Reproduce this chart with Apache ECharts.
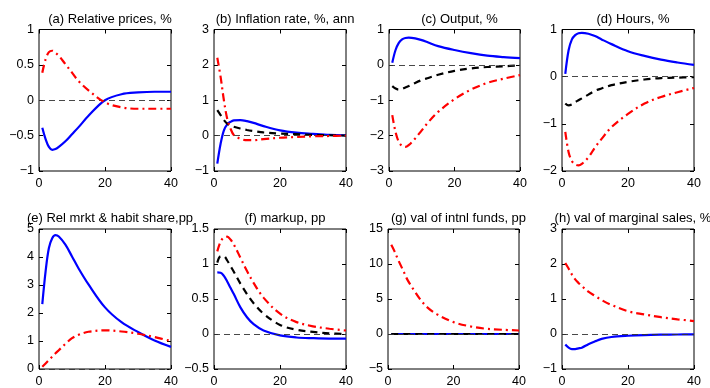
<!DOCTYPE html>
<html><head><meta charset="utf-8">
<script src="https://cdn.jsdelivr.net/npm/echarts@6/dist/echarts.min.js"></script>
<style>html,body{margin:0;padding:0;background:#fff}#c{width:710px;height:388px}</style>
</head><body><div id="c"></div>
<script>
const xs = [1,2,3,4,5,6,8,10,12,15,20,25,30,35,40];
const titles = ['(a) Relative prices, %','(b) Inflation rate, %, ann','(c) Output, %','(d) Hours, %',
  '(e) Rel mrkt & habit share,pp','(f) markup, pp','(g) val of intnl funds, pp','(h) val of marginal sales, %'];
const yMin = [-1,-1,-3,-2,0,-0.5,-5,-1];
const yMax = [1,3,1,1,5,1.5,15,3];
const yStep = [0.5,1,1,1,1,0.5,5,1];

const blueA = [-0.39,-0.55,-0.66,-0.70,-0.69,-0.66,-0.58,-0.48,-0.38,-0.22,0.0,0.085,0.11,0.12,0.12];
const redA  = [0.39,0.58,0.68,0.70,0.67,0.63,0.51,0.39,0.27,0.14,-0.03,-0.10,-0.12,-0.12,-0.12];

const blueB  = [-0.79,-0.23,0.15,0.32,0.39,0.43,0.44,0.41,0.36,0.27,0.15,0.085,0.05,0.02,0.01];
const blackB = [0.72,0.58,0.44,0.34,0.29,0.25,0.2,0.16,0.13,0.09,0.06,0.04,0.02,0.01,0];
const redB   = [2.2,1.66,1.0,0.48,0.2,0.02,-0.09,-0.13,-0.13,-0.10,-0.06,-0.04,-0.02,-0.01,0];

const blueC  = [0.06,0.42,0.62,0.72,0.76,0.77,0.75,0.70,0.63,0.53,0.42,0.33,0.26,0.22,0.19];
const blackC = [-0.60,-0.67,-0.70,-0.68,-0.64,-0.60,-0.51,-0.43,-0.37,-0.28,-0.17,-0.10,-0.06,-0.04,-0.01];
const redC   = [-1.42,-1.9,-2.18,-2.29,-2.32,-2.27,-2.08,-1.85,-1.62,-1.33,-0.97,-0.70,-0.51,-0.39,-0.29];

const blueD  = [0.06,0.56,0.79,0.88,0.92,0.93,0.91,0.86,0.79,0.69,0.54,0.44,0.36,0.30,0.25];
const blackD = [-0.57,-0.61,-0.59,-0.54,-0.50,-0.46,-0.38,-0.30,-0.25,-0.18,-0.11,-0.06,-0.03,-0.02,-0.01];
const redD   = [-1.17,-1.6,-1.79,-1.86,-1.88,-1.85,-1.71,-1.50,-1.32,-1.07,-0.79,-0.57,-0.43,-0.33,-0.24];

const blueE = [2.32,3.49,4.32,4.67,4.78,4.73,4.44,4.02,3.59,3.02,2.2,1.67,1.32,1.02,0.79];
const redE  = [0.08,0.2,0.32,0.44,0.56,0.67,0.9,1.1,1.22,1.33,1.38,1.34,1.26,1.14,1.0];

const blueF  = [0.88,0.875,0.83,0.75,0.66,0.57,0.38,0.24,0.14,0.05,-0.02,-0.05,-0.06,-0.065,-0.065];
const blackF = [1.02,1.11,1.11,1.05,0.97,0.89,0.72,0.57,0.44,0.29,0.13,0.06,0.03,0.01,0.0];
const redF   = [1.18,1.32,1.38,1.39,1.35,1.28,1.09,0.90,0.73,0.52,0.29,0.17,0.11,0.075,0.05];

const blueG  = [0,0,0,0,0,0,0,0,0,0,0,0,0,0,0];
const blackG = [0,0,0,0,0,0,0,0,0,0,0,0,0,0,0];
const redG   = [12.75,11.8,10.7,9.7,8.7,7.7,6.2,4.85,3.8,2.8,1.7,1.1,0.75,0.6,0.5];

const blueH = [-0.30,-0.39,-0.43,-0.43,-0.41,-0.39,-0.29,-0.21,-0.14,-0.085,-0.05,-0.03,-0.02,-0.015,-0.01];
const redH  = [2.03,1.87,1.70,1.56,1.46,1.37,1.21,1.09,0.97,0.83,0.65,0.56,0.48,0.42,0.37];

const panelBlue  = [blueA,blueB,blueC,blueD,blueE,blueF,blueG,blueH];
const panelBlack = [null,blackB,blackC,blackD,null,blackF,blackG,null];
const panelRed   = [redA,redB,redC,redD,redE,redF,redG,redH];

const lefts = [39,214,389,562,39,214,388,562];
const widths = [132,132,131,132,132,132,131,132];
const tops = [29.5,29.5,29.5,29.5,229,229,229,229];
const height = 141.5;

const font = 'Liberation Sans, Arial, Helvetica, sans-serif';
const fmt = v => String(v).replace('-', '\u2212');
const pairs = arr => xs.map((x,i)=>[x,arr[i]]);

const grid=[], xAxis=[], yAxis=[], series=[], title=[];
for (let i=0;i<8;i++){
  grid.push({left:lefts[i], top:tops[i], width:widths[i], height:height, show:true, borderColor:'#000', borderWidth:1, backgroundColor:'transparent', containLabel:false});
  title.push({text:titles[i], left:lefts[i]+widths[i]/2, top:tops[i]-22, textAlign:'center',
    textStyle:{fontFamily:font, fontSize:13, fontWeight:'normal', color:'#000'}});
  const tick = {show:true, inside:true, length:4, lineStyle:{color:'#000', width:1}};
  const line = {show:false, onZero:false};
  xAxis.push({gridIndex:i, type:'value', min:0, max:40, interval:20, position:'bottom',
    axisLine:line, splitLine:{show:false}, axisTick:tick,
    axisLabel:{fontFamily:font, fontSize:12.5, color:'#000', margin:6, formatter:fmt}});
  xAxis.push({gridIndex:i, type:'value', min:0, max:40, interval:20, position:'top',
    axisLine:line, splitLine:{show:false}, axisTick:tick, axisLabel:{show:false}});
  yAxis.push({gridIndex:i, type:'value', min:yMin[i], max:yMax[i], interval:yStep[i], position:'left',
    axisLine:line, splitLine:{show:false}, axisTick:tick,
    axisLabel:{fontFamily:font, fontSize:12.5, color:'#000', margin:5, formatter:fmt}});
  yAxis.push({gridIndex:i, type:'value', min:yMin[i], max:yMax[i], interval:yStep[i], position:'right',
    axisLine:line, splitLine:{show:false}, axisTick:tick, axisLabel:{show:false}});
  const ax = {xAxisIndex:2*i, yAxisIndex:2*i};
  series.push(Object.assign({type:'line', data:pairs(panelBlue[i]), smooth:0.35, symbol:'none', silent:true,
    lineStyle:{color:'#0000ff', width:2.2}, z:3,
    markLine:{silent:true, symbol:'none', label:{show:false}, animation:false,
      lineStyle:{color:'#333', width:0.9, type:[6,4]}, data:[{yAxis:0}]}}, ax));
  if (panelBlack[i]) series.push(Object.assign({type:'line', data:pairs(panelBlack[i]), smooth:0.35, symbol:'none', silent:true,
    lineStyle:{color:'#000', width:2.2, type:[7,5]}, z:4}, ax));
  series.push(Object.assign({type:'line', data:pairs(panelRed[i]), smooth:0.35, symbol:'none', silent:true,
    lineStyle:{color:'#ff0000', width:2.2, type:[8,4,2,4]}, z:5}, ax));
}
const chart = echarts.init(document.getElementById('c'), null, {renderer:'canvas'});
chart.setOption({animation:false, backgroundColor:'#fff', title, grid, xAxis, yAxis, series});
</script></body></html>
